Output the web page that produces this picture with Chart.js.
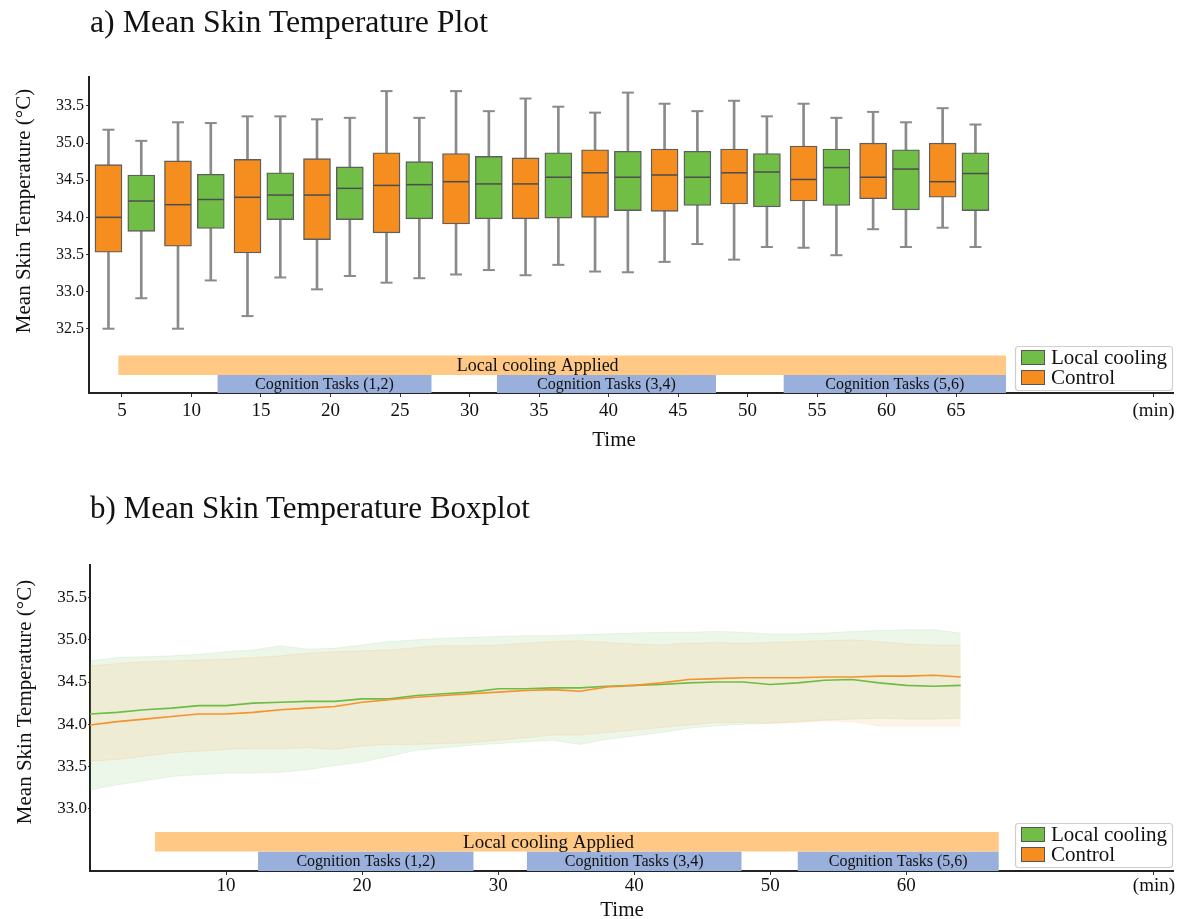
<!DOCTYPE html>
<html>
<head>
<meta charset="utf-8">
<script src="https://cdn.jsdelivr.net/npm/chart.js@4.4.1/dist/chart.umd.min.js"></script>
<style>
html,body{margin:0;padding:0;background:#fff;}
#wrap{position:relative;width:1179px;height:919px;overflow:hidden;}
.ttl{position:absolute;left:90px;font-family:"Liberation Serif","Times New Roman",serif;line-height:31px;color:#111;white-space:nowrap;}
.cv{position:absolute;left:0;}
</style>
</head>
<body>
<div id="wrap">
  <canvas id="c1" class="cv" style="top:0px" width="1179" height="460"></canvas>
  <canvas id="c2" class="cv" style="top:460px" width="1179" height="459"></canvas>
  <div class="ttl" style="top:6px;font-size:31.8px">a) Mean Skin Temperature Plot</div>
  <div class="ttl" style="top:492px;font-size:31px">b) Mean Skin Temperature Boxplot</div>
</div>
<script>
// ---------------- DATA ----------------
const seriesNames = ['Local cooling', 'Control'];
// a) box plot, one box per group per time point (minutes)
const boxTimes = [5, 10, 15, 20, 25, 30, 35, 40, 45, 50, 55, 60, 65];
const ctrlMin = [32.50, 32.50, 32.67, 33.03, 33.12, 33.23, 33.22, 33.27, 33.40, 33.43, 33.59, 33.84, 33.86];
const ctrlQ1  = [33.53, 33.61, 33.52, 33.70, 33.79, 33.91, 33.98, 34.00, 34.08, 34.18, 34.22, 34.25, 34.27];
const ctrlMed = [34.00, 34.17, 34.27, 34.30, 34.43, 34.48, 34.45, 34.60, 34.57, 34.60, 34.51, 34.54, 34.48];
const ctrlQ3  = [34.71, 34.76, 34.78, 34.79, 34.87, 34.86, 34.80, 34.91, 34.92, 34.92, 34.96, 35.00, 35.00];
const ctrlMax = [35.18, 35.28, 35.36, 35.32, 35.70, 35.70, 35.60, 35.41, 35.53, 35.57, 35.53, 35.42, 35.47];
const coolMin = [32.91, 33.15, 33.19, 33.21, 33.18, 33.29, 33.36, 33.26, 33.64, 33.60, 33.49, 33.60, 33.60];
const coolQ1  = [33.81, 33.85, 33.97, 33.97, 33.98, 33.98, 33.99, 34.09, 34.16, 34.14, 34.16, 34.10, 34.09];
const coolMed = [34.22, 34.24, 34.30, 34.39, 34.44, 34.45, 34.54, 34.54, 34.54, 34.61, 34.67, 34.65, 34.59];
const coolQ3  = [34.57, 34.58, 34.60, 34.68, 34.75, 34.82, 34.87, 34.89, 34.89, 34.86, 34.92, 34.91, 34.87];
const coolMax = [35.03, 35.27, 35.36, 35.34, 35.34, 35.43, 35.49, 35.68, 35.43, 35.36, 35.34, 35.28, 35.25];
const topYTicks = [32.5, 33.0, 33.5, 34.0, 34.5, 35.0, 35.5];
const topYTickLabels = ['32.5', '33.0', '33.5', '34.0', '34.5', '35.0', '33.5'];
const topXTicks = [5, 10, 15, 20, 25, 30, 35, 40, 45, 50, 55, 60, 65];

// b) mean line with spread band (minutes)
const botTimes = [0, 2, 4, 6, 8, 10, 12, 14, 16, 18, 20, 22, 24, 26, 28, 30, 32, 34, 36, 38, 40, 42, 44, 46, 48, 50, 52, 54, 56, 58, 60, 62, 64];
const coolMean = [34.12, 34.14, 34.17, 34.19, 34.22, 34.22, 34.25, 34.26, 34.27, 34.27, 34.30, 34.30, 34.34, 34.36, 34.38, 34.42, 34.42, 34.43, 34.43, 34.45, 34.46, 34.47, 34.49, 34.50, 34.50, 34.47, 34.49, 34.52, 34.53, 34.49, 34.46, 34.45, 34.46];
const ctrlMean = [33.99, 34.03, 34.06, 34.09, 34.12, 34.12, 34.14, 34.17, 34.19, 34.21, 34.26, 34.29, 34.32, 34.34, 34.36, 34.38, 34.40, 34.41, 34.39, 34.44, 34.46, 34.49, 34.53, 34.54, 34.55, 34.55, 34.55, 34.56, 34.56, 34.57, 34.57, 34.58, 34.56];
const coolHi = [34.75, 34.79, 34.80, 34.81, 34.83, 34.86, 34.88, 34.93, 34.89, 34.90, 34.94, 34.98, 35.00, 35.02, 35.03, 35.04, 35.05, 35.05, 35.06, 35.07, 35.08, 35.09, 35.09, 35.10, 35.09, 35.07, 35.07, 35.08, 35.10, 35.11, 35.12, 35.12, 35.08];
const coolLo = [33.22, 33.28, 33.33, 33.38, 33.40, 33.42, 33.42, 33.43, 33.46, 33.51, 33.55, 33.62, 33.69, 33.72, 33.75, 33.77, 33.79, 33.81, 33.76, 33.82, 33.86, 33.90, 33.95, 33.98, 34.00, 34.01, 34.03, 34.05, 34.06, 34.07, 34.06, 34.06, 34.07];
const ctrlHi = [34.69, 34.72, 34.74, 34.75, 34.76, 34.77, 34.79, 34.81, 34.84, 34.86, 34.87, 34.88, 34.91, 34.93, 34.93, 34.94, 34.96, 34.98, 34.99, 34.97, 34.95, 34.94, 34.96, 34.97, 34.96, 34.97, 34.98, 34.99, 35.00, 34.98, 34.95, 34.94, 34.94];
const ctrlLo = [33.56, 33.58, 33.62, 33.66, 33.68, 33.70, 33.71, 33.71, 33.72, 33.70, 33.74, 33.76, 33.76, 33.77, 33.78, 33.81, 33.84, 33.87, 33.87, 33.90, 33.93, 33.96, 33.99, 34.02, 34.02, 34.01, 34.02, 34.04, 34.03, 33.98, 33.98, 33.98, 33.98];
const botYTicks = [33.0, 33.5, 34.0, 34.5, 35.0, 35.5];
const botXTicks = [10, 20, 30, 40, 50, 60];

// protocol phases (minutes)
const coolingText = 'Local cooling Applied';
const taskNames = ['Cognition Tasks (1,2)', 'Cognition Tasks (3,4)', 'Cognition Tasks (5,6)'];
const coolingWindowTop = [4.73, 68.6];
const taskWindowsTop = [[11.86, 27.28], [31.96, 47.73], [52.58, 68.6]];
const coolingWindowBot = [4.78, 66.8];
const taskWindowsBot = [[12.35, 28.2], [32.1, 47.9], [52.0, 66.8]];

// ---------------- STYLE / LAYOUT ----------------
const SERIF = '"Liberation Serif", "Times New Roman", serif';
const C_CTRL = '#F58D1F', C_COOL = '#70BE45';
const C_CTRL_LINE = '#F7912C', C_COOL_LINE = '#6CBD45';
const C_BAND_COOL = '#FFC985', C_BAND_TASK = '#9AB0DC';
const OFF_CTRL = -0.97, OFF_COOL = 1.39; // box offsets from time tick (minutes)
const TOP_MIN_AT = 79.2, BOT_MIN_AT = 78.2;

function bandDs(x0, x1, yTop, yBase, color) {
  return {type: 'line', data: [{x: x0, y: yTop}, {x: x1, y: yTop}], fill: {value: yBase},
    backgroundColor: color, borderColor: 'rgba(0,0,0,0)', borderWidth: 0, pointRadius: 0, order: 20, tension: 0};
}

const annoPlugin = {
  id: 'anno',
  afterDraw(chart, args, o) {
    const {ctx} = chart;
    const x = chart.scales.x, y = chart.scales.y;
    ctx.save();
    ctx.fillStyle = '#111';
    ctx.textAlign = 'center';
    ctx.textBaseline = 'middle';
    ctx.font = o.coolFont;
    ctx.fillText(coolingText, x.getPixelForValue(o.coolLabelAt), y.getPixelForValue((o.coolTop + o.coolBase) / 2) + 1);
    ctx.font = o.taskFont;
    o.tasks.forEach((w, i) => {
      ctx.fillText(taskNames[i], x.getPixelForValue((w[0] + w[1]) / 2), y.getPixelForValue((o.coolBase + o.axisMin) / 2) + 1);
    });
    // axis titles
    ctx.font = '21px ' + SERIF;
    ctx.textBaseline = 'alphabetic';
    ctx.fillText('Time', o.xTitle[0], o.xTitle[1]);
    ctx.save();
    ctx.translate(o.yTitle[0], o.yTitle[1]);
    ctx.rotate(-Math.PI / 2);
    ctx.textBaseline = 'middle';
    ctx.fillText('Mean Skin Temperature (°C)', 0, 0);
    ctx.restore();
    // legend
    const L = o.legend;
    ctx.fillStyle = '#fff';
    ctx.strokeStyle = '#cfcfcf';
    ctx.lineWidth = 1.2;
    ctx.beginPath();
    ctx.roundRect(L.x + 0.5, L.y + 0.5, L.w, L.h, 3);
    ctx.fill(); ctx.stroke();
    const cols = [C_COOL, C_CTRL];
    seriesNames.forEach((nm, i) => {
      const sy = L.y + 4 + i * 20;
      ctx.fillStyle = cols[i];
      ctx.fillRect(L.x + 6, sy, 24, 15);
      ctx.strokeStyle = '#555';
      ctx.lineWidth = 1;
      ctx.strokeRect(L.x + 6.5, sy + 0.5, 23, 14);
      ctx.fillStyle = '#111';
      ctx.font = '21px ' + SERIF;
      ctx.textAlign = 'left';
      ctx.textBaseline = 'middle';
      ctx.fillText(nm, L.x + 36, sy + 8);
    });
    ctx.restore();
  }
};

const axisStyle = {
  grid: {display: true, drawOnChartArea: false, drawTicks: true, tickLength: 4, color: '#333', offset: false},
  border: {display: true, color: '#222', width: 2}
};
const noSidePad = s => { s.paddingLeft = 0; s.paddingRight = 0; };

// ---------------- CHART a) ----------------
const at = (off, arr) => boxTimes.map((t, i) => ({x: t + off, y: arr[i]}));
const range = (off, lo, hi) => boxTimes.map((t, i) => ({x: t + off, y: [lo[i], hi[i]]}));
const capPts = (off, lo, hi) => at(off, lo).concat(at(off, hi));

const barCommon = {type: 'bar', grouped: false, categoryPercentage: 1, barPercentage: 1, borderSkipped: false};
new Chart(document.getElementById('c1'), {
  type: 'bar',
  data: {
    datasets: [
      Object.assign({}, barCommon, {label: 'Control whisker', data: range(OFF_CTRL, ctrlMin, ctrlMax), backgroundColor: '#8a8a8a', maxBarThickness: 2, order: 4}),
      Object.assign({}, barCommon, {label: 'Local cooling whisker', data: range(OFF_COOL, coolMin, coolMax), backgroundColor: '#8a8a8a', maxBarThickness: 2, order: 4}),
      Object.assign({}, barCommon, {label: seriesNames[1], data: range(OFF_CTRL, ctrlQ1, ctrlQ3), backgroundColor: C_CTRL, borderColor: '#5e5e5e', borderWidth: 1.4, maxBarThickness: 27, order: 3}),
      Object.assign({}, barCommon, {label: seriesNames[0], data: range(OFF_COOL, coolQ1, coolQ3), backgroundColor: C_COOL, borderColor: '#5e5e5e', borderWidth: 1.4, maxBarThickness: 27, order: 3}),
      {type: 'line', label: 'Control caps', data: capPts(OFF_CTRL, ctrlMin, ctrlMax), showLine: false, pointStyle: 'line', pointRadius: 6, borderColor: '#8a8a8a', pointBorderColor: '#8a8a8a', pointBorderWidth: 2, order: 1},
      {type: 'line', label: 'Local cooling caps', data: capPts(OFF_COOL, coolMin, coolMax), showLine: false, pointStyle: 'line', pointRadius: 6, borderColor: '#8a8a8a', pointBorderColor: '#8a8a8a', pointBorderWidth: 2, order: 1},
      {type: 'line', label: 'Control median', data: at(OFF_CTRL, ctrlMed), showLine: false, pointStyle: 'line', pointRadius: 13, borderColor: '#4d4d4d', pointBorderColor: '#4d4d4d', pointBorderWidth: 1.5, order: 0},
      {type: 'line', label: 'Local cooling median', data: at(OFF_COOL, coolMed), showLine: false, pointStyle: 'line', pointRadius: 13, borderColor: '#4d4d4d', pointBorderColor: '#4d4d4d', pointBorderWidth: 1.5, order: 0},
      bandDs(coolingWindowTop[0], coolingWindowTop[1], 32.14, 31.875, C_BAND_COOL),
      ...taskWindowsTop.map(w => bandDs(w[0], w[1], 31.875, 31.634, C_BAND_TASK))
    ]
  },
  options: {
    responsive: false, animation: false, events: [], devicePixelRatio: 1,
    layout: {autoPadding: false, padding: {top: 77, right: 6, left: 0, bottom: 0}},
    plugins: {
      legend: {display: false}, tooltip: {enabled: false},
      anno: {coolFont: '18px ' + SERIF, taskFont: '16px ' + SERIF, coolLabelAt: 34.9, coolTop: 32.14, coolBase: 31.875, axisMin: 31.634,
        tasks: taskWindowsTop, xTitle: [614, 446], yTitle: [24, 211], legend: {x: 1015, y: 346, w: 157, h: 44}}
    },
    scales: {
      x: Object.assign({
        type: 'linear', min: 2.63, max: 80.6, offset: false, z: 1,
        afterBuildTicks: s => { s.ticks = topXTicks.concat([TOP_MIN_AT]).map(v => ({value: v})); },
        afterFit: s => { s.height = 67; noSidePad(s); },
        ticks: {callback: v => v === TOP_MIN_AT ? '(min)' : String(v), font: {family: SERIF, size: 19}, color: '#111', padding: 3, maxRotation: 0, autoSkip: false}
      }, axisStyle),
      y: Object.assign({
        type: 'linear', min: 31.634, max: 35.89,
        afterBuildTicks: s => { s.ticks = topYTicks.map(v => ({value: v})); },
        afterFit: s => { s.width = 89; },
        ticks: {callback: (v, i) => topYTickLabels[i], font: {family: SERIF, size: 16}, color: '#111', padding: 2, autoSkip: false}
      }, axisStyle, {grid: Object.assign({}, axisStyle.grid, {tickLength: 3})})
    }
  },
  plugins: [annoPlugin]
});

// ---------------- CHART b) ----------------
const series = (xs, ys) => xs.map((t, i) => ({x: t, y: ys[i]}));
new Chart(document.getElementById('c2'), {
  type: 'line',
  data: {
    datasets: [
      {label: seriesNames[1], data: series(botTimes, ctrlMean), borderColor: C_CTRL_LINE, borderWidth: 1.6, pointRadius: 0, fill: false, order: 0},
      {label: seriesNames[0], data: series(botTimes, coolMean), borderColor: C_COOL_LINE, borderWidth: 1.6, pointRadius: 0, fill: false, order: 1},
      {label: 'Control upper', data: series(botTimes, ctrlHi), borderColor: 'rgba(245,150,45,0.12)', borderWidth: 1, backgroundColor: 'rgba(245,150,45,0.11)', fill: '+1', pointRadius: 0, order: 5},
      {label: 'Control lower', data: series(botTimes, ctrlLo), borderColor: 'rgba(245,150,45,0.12)', borderWidth: 1, fill: false, pointRadius: 0, order: 6},
      {label: 'Local cooling upper', data: series(botTimes, coolHi), borderColor: 'rgba(110,190,70,0.12)', borderWidth: 1, backgroundColor: 'rgba(110,190,70,0.12)', fill: '+1', pointRadius: 0, order: 7},
      {label: 'Local cooling lower', data: series(botTimes, coolLo), borderColor: 'rgba(110,190,70,0.12)', borderWidth: 1, fill: false, pointRadius: 0, order: 8},
      bandDs(coolingWindowBot[0], coolingWindowBot[1], 32.72, 32.49, C_BAND_COOL),
      ...taskWindowsBot.map(w => bandDs(w[0], w[1], 32.49, 32.258, C_BAND_TASK))
    ]
  },
  options: {
    responsive: false, animation: false, events: [], devicePixelRatio: 1,
    layout: {autoPadding: false, padding: {top: 105, right: 6, left: 0, bottom: 0}},
    plugins: {
      legend: {display: false}, tooltip: {enabled: false},
      anno: {coolFont: '19px ' + SERIF, taskFont: '16px ' + SERIF, coolLabelAt: 33.7, coolTop: 32.72, coolBase: 32.49, axisMin: 32.258,
        tasks: taskWindowsBot, xTitle: [622, 456], yTitle: [25, 242], legend: {x: 1015, y: 363, w: 157, h: 44}}
    },
    scales: {
      x: Object.assign({
        type: 'linear', min: 0, max: 79.6, offset: false, z: 1,
        afterBuildTicks: s => { s.ticks = botXTicks.concat([BOT_MIN_AT]).map(v => ({value: v})); },
        afterFit: s => { s.height = 48; noSidePad(s); },
        ticks: {callback: v => v === BOT_MIN_AT ? '(min)' : String(v), font: {family: SERIF, size: 19}, color: '#111', padding: 0, maxRotation: 0, autoSkip: false}
      }, axisStyle),
      y: Object.assign({
        type: 'linear', min: 32.258, max: 35.888,
        afterBuildTicks: s => { s.ticks = botYTicks.map(v => ({value: v})); },
        afterFit: s => { s.width = 90; },
        ticks: {callback: v => v.toFixed(1), font: {family: SERIF, size: 17}, color: '#111', padding: 1, autoSkip: false}
      }, axisStyle, {grid: Object.assign({}, axisStyle.grid, {tickLength: 2})})
    }
  },
  plugins: [annoPlugin]
});
</script>
</body>
</html>
